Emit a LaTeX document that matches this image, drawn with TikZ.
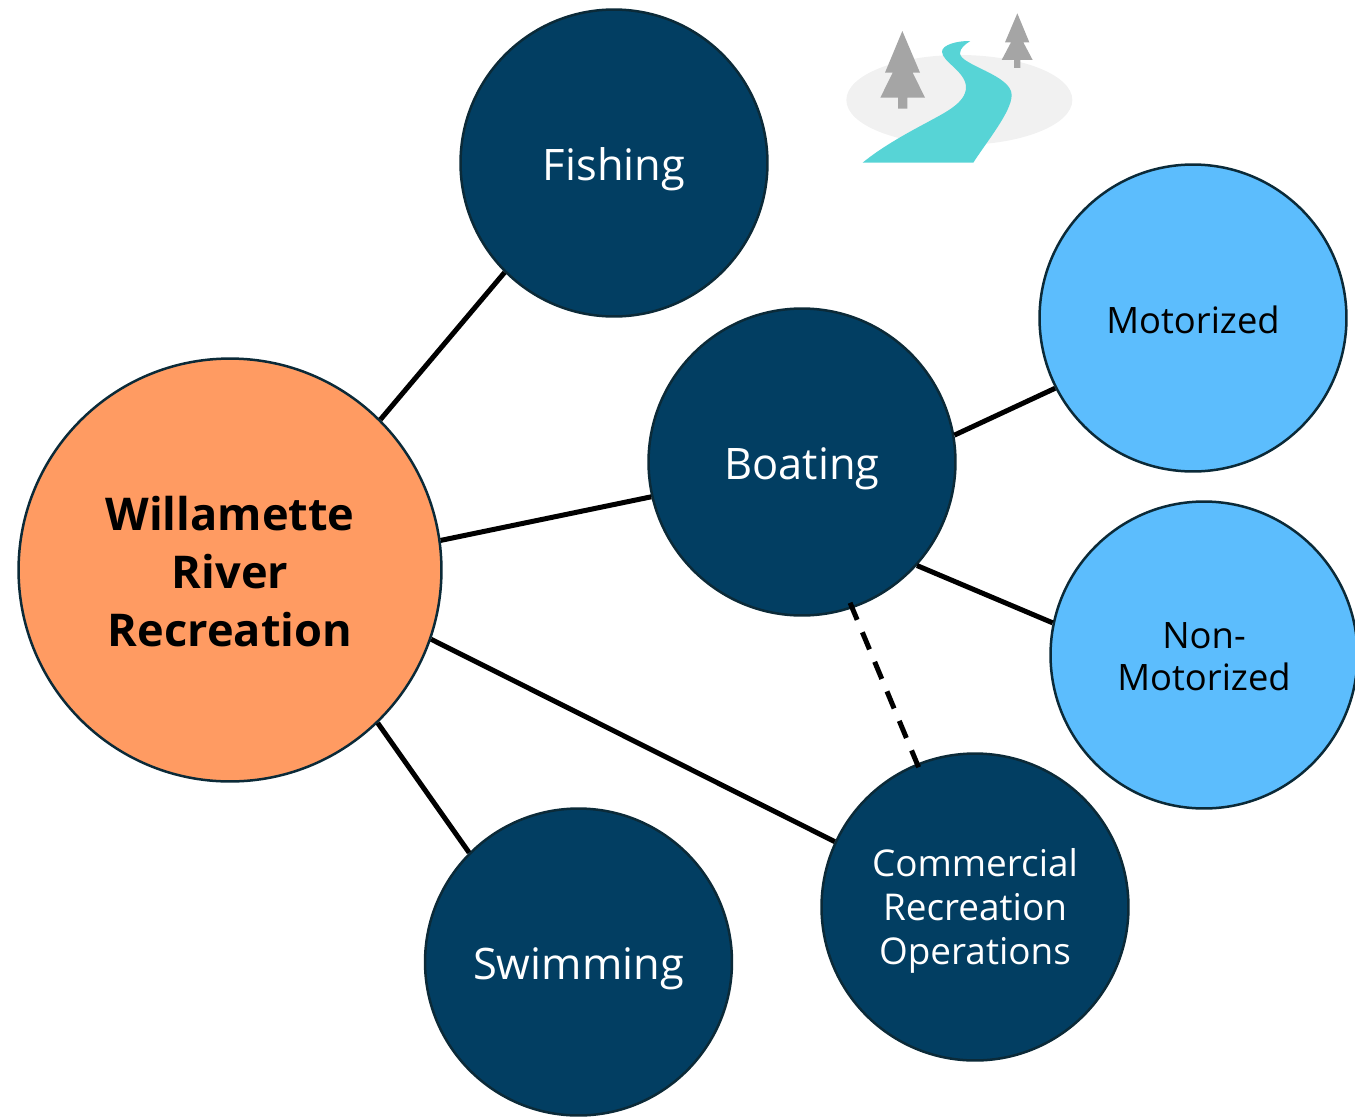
\documentclass[tikz,border=0pt]{standalone}
\usepackage{fontspec}
\setmainfont{Open Sans}
\definecolor{deepblue}{HTML}{023E62}
\definecolor{skyblue}{HTML}{5CBDFD}
\definecolor{peach}{HTML}{FF9B62}
\definecolor{rim}{HTML}{0B2A38}
\definecolor{river}{HTML}{57D4D6}
\definecolor{treegray}{HTML}{A5A5A5}
\definecolor{landgray}{HTML}{F1F1F1}
\newcommand{\droptext}[2]{\raisebox{-#1}[\height][\depth]{\begin{tabular}{@{}c@{}}#2\end{tabular}}}
\tikzset{
  topic/.style={circle, draw=rim, line width=0.05cm, fill=deepblue, text=white, minimum size=6.14cm, inner sep=0pt, font=\fontsize{24.7}{30}\selectfont},
  subtopic/.style={circle, draw=rim, line width=0.05cm, fill=skyblue, text=black, minimum size=6.14cm, inner sep=0pt, font=\fontsize{20.7}{24}\selectfont},
  link/.style={line width=0.1cm}
}
\begin{document}
\begin{tikzpicture}[x=0.02cm, y=-0.02cm]
  \useasboundingbox (0,0) rectangle (1355,1116);

  % Cerchi
  \node (main) at (230,570) [circle, draw=rim, line width=0.05cm, fill=peach, minimum size=8.46cm, inner sep=0pt, font=\fontsize{25.7}{33}\selectfont\bfseries] {\droptext{0.14cm}{Willamette\\River\\Recreation}};
  \node (fishing) at (614,163) [topic] {\droptext{0.13cm}{Fishing}};
  \node (boating) at (802,462) [topic] {\droptext{0.14cm}{Boating}};
  \node (swimming) at (578.5,962) [topic] {\droptext{0.14cm}{Swimming}};
  \node (commercial) at (975,907) [topic, font=\fontsize{21}{25}\selectfont] {\droptext{0.10cm}{Commercial\\Recreation\\Operations}};
  \node (motorized) at (1193,318) [subtopic] {\droptext{0.14cm}{Motorized}};
  \node (nonmotorized) at (1204,655) [subtopic] {\droptext{0.12cm}{Non-\\Motorized}};

  % Collegamenti
  \draw[link] (main.45) -- (fishing.225);
  \draw[link] (main.8) -- (boating.193);
  \draw[link] (main.-19) -- (commercial.155);
  \draw[link] (main.-46) -- (swimming.135);
  \draw[link] (boating.10) -- (motorized.207);
  \draw[link] (boating.-42) -- (nonmotorized.168);
  \draw[link, dash pattern=on 0.37cm off 0.27cm, shorten <=-0.12cm, shorten >=-0.08cm] (boating.-71) -- (commercial.112);

  % Paesaggio
  \begin{scope}[shift={(830,0)}, x=0.00667cm, y=-0.00667cm]
    \fill[landgray] (388,300) ellipse [x radius=339, y radius=135];
    \fill[treegray] (217,93) -- (270,218) -- (248,218) -- (285,293) -- (232,293) -- (232,326) -- (204,326) -- (204,293) -- (151,293) -- (188,218) -- (165,218) -- cycle;
    \fill[treegray] (562,40) -- (598,127) -- (580,127) -- (608,180) -- (571,180) -- (571,204) -- (552,204) -- (552,180) -- (515,180) -- (543,127) -- (525,127) -- cycle;
    \fill[river] (421,123) .. controls (380,122) and (336,135) .. (336,155)
      .. controls (336,185) and (408,215) .. (408,262)
      .. controls (408,310) and (340,340) .. (290,368)
      .. controls (220,405) and (150,445) .. (98,488)
      -- (430,488)
      .. controls (470,425) and (545,335) .. (545,285)
      .. controls (545,225) and (390,195) .. (390,160)
      .. controls (390,145) and (405,133) .. (421,123) -- cycle;
  \end{scope}
\end{tikzpicture}
\end{document}
